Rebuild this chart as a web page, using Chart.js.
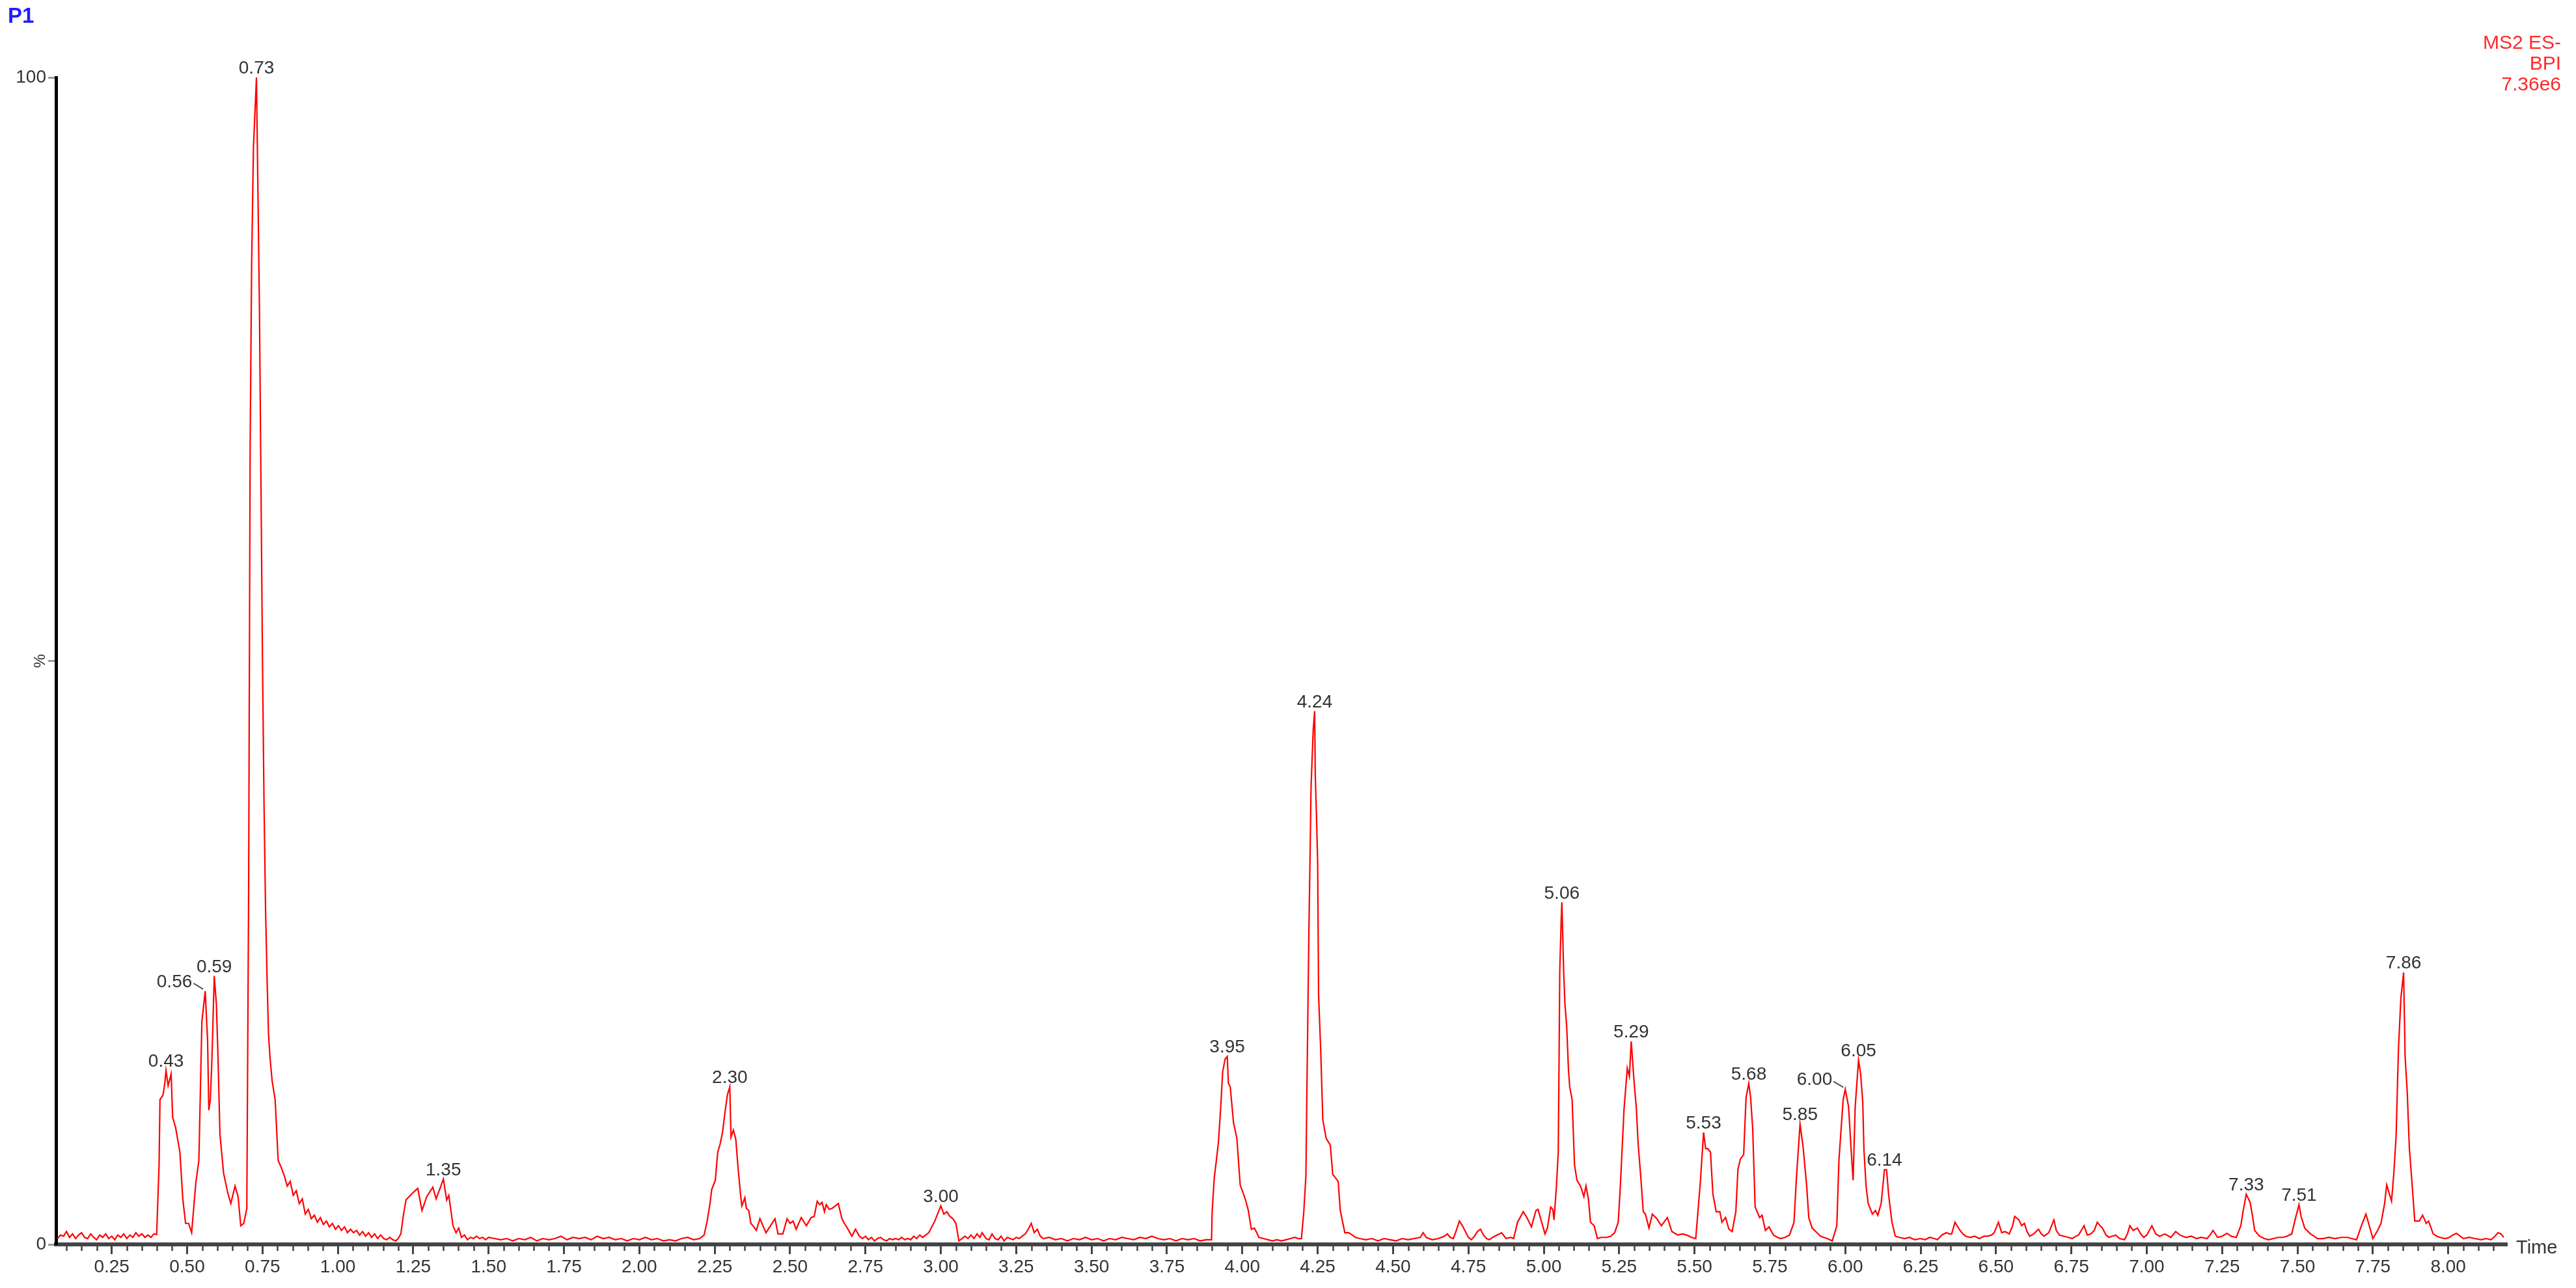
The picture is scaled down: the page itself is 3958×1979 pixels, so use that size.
<!DOCTYPE html>
<html>
<head>
<meta charset="utf-8">
<script src="https://cdn.jsdelivr.net/npm/chart.js@4.4.0/dist/chart.umd.min.js"></script>
<style>
  html, body { margin: 0; padding: 0; background: #fff; }
  #wrap { width: 3958px; height: 1979px; }
</style>
</head>
<body>
<div id="wrap"><canvas id="bpi" width="3958" height="1979"></canvas></div>
<script>
// BPI trace, [time (min), intensity (%)]
const trace0 = [ // 0.07 - 1.20 : front peaks and the 0.73 max
  [0.07,0.5],[0.08,0.8],[0.09,0.7],[0.10,1.1],[0.11,0.6],[0.12,0.9],[0.13,0.5],[0.14,0.8],[0.15,1.0],[0.16,0.6],
  [0.17,0.5],[0.18,0.9],[0.19,0.6],[0.20,0.4],[0.21,0.8],[0.22,0.6],[0.23,0.9],[0.24,0.5],[0.25,0.7],[0.26,0.4],
  [0.27,0.8],[0.28,0.6],[0.29,0.9],[0.30,0.5],[0.31,0.8],[0.32,0.6],[0.33,1.0],[0.34,0.7],[0.35,0.9],[0.36,0.6],
  [0.37,0.8],[0.38,0.6],[0.39,0.9],[0.399,0.85],[0.407,6.8],[0.41,12.4],[0.42,12.8],[0.426,13.8],[0.43,14.9],
  [0.437,13.6],[0.447,14.6],[0.452,10.9],[0.462,10.0],[0.476,7.9],[0.486,3.8],[0.495,1.8],[0.505,1.8],[0.515,1.0],
  [0.529,5.3],[0.539,7.2],[0.544,13.1],[0.549,19.1],[0.56,21.7],[0.568,17.4],[0.572,11.5],[0.577,12.4],[0.582,15.6],
  [0.59,23.0],[0.597,20.6],[0.602,16.5],[0.609,9.4],[0.621,6.1],[0.635,4.4],[0.645,3.5],[0.659,5.0],[0.669,4.1],
  [0.678,1.6],[0.688,1.8],[0.698,3.1],[0.704,30],[0.709,68],[0.714,84],[0.72,94],[0.73,100],[0.735,90],[0.74,80],
  [0.745,65],[0.75,50],[0.755,38],[0.76,29],[0.765,23],[0.77,18],[0.775,16],[0.782,14],[0.792,12.4],[0.802,7.2],
  [0.812,6.6],[0.822,5.9],[0.832,5.0],[0.842,5.4],[0.852,4.2],[0.862,4.6],[0.872,3.5],[0.882,3.9],[0.892,2.6],
  [0.902,3.0],[0.912,2.2],[0.922,2.5],[0.932,1.9],[0.942,2.3],[0.952,1.7],[0.962,2.0],[0.972,1.5],[0.982,1.8],
  [0.992,1.3],[1.002,1.6],[1.012,1.2],[1.022,1.5],[1.032,1.0],[1.042,1.3],[1.052,1.0],[1.062,1.2],[1.072,0.8],
  [1.082,1.1],[1.092,0.7],[1.102,1.0],[1.112,0.6],[1.122,0.9],[1.132,0.5],[1.142,0.8],[1.152,0.5],[1.162,0.4],
  [1.172,0.6],[1.182,0.4],[1.192,0.3],[1.20,0.5]
];
const trace1 = [ // 1.21 - 2.20 : 1.35 cluster and flat baseline
  [1.209,0.9],[1.218,2.6],[1.226,3.8],[1.24,4.2],[1.252,4.5],[1.265,4.8],[1.279,2.9],[1.295,4.1],[1.315,4.9],
  [1.326,3.9],[1.339,4.8],[1.35,5.6],[1.361,3.8],[1.368,4.2],[1.382,1.6],[1.392,1.0],[1.401,1.4],[1.41,0.6],
  [1.42,0.8],[1.43,0.4],[1.44,0.6],[1.45,0.5],[1.46,0.7],[1.47,0.5],[1.48,0.6],[1.49,0.4],[1.50,0.6],[1.52,0.5],
  [1.54,0.4],[1.56,0.5],[1.58,0.3],[1.60,0.5],[1.62,0.4],[1.64,0.6],[1.66,0.3],[1.68,0.5],[1.70,0.4],[1.72,0.5],
  [1.74,0.7],[1.76,0.4],[1.78,0.6],[1.80,0.5],[1.82,0.6],[1.84,0.4],[1.86,0.7],[1.88,0.5],[1.90,0.6],[1.92,0.4],
  [1.94,0.5],[1.96,0.3],[1.98,0.5],[2.00,0.4],[2.02,0.6],[2.04,0.4],[2.06,0.5],[2.08,0.3],[2.10,0.4],[2.12,0.3],
  [2.14,0.5],[2.16,0.6],[2.18,0.4],[2.20,0.5]
];
const trace2 = [ // 2.21 - 3.88 : 2.30 and 3.00
  [2.215,0.8],[2.225,2.0],[2.235,3.6],[2.24,4.7],[2.252,5.5],[2.26,7.9],[2.268,8.6],[2.276,9.6],[2.284,11.3],
  [2.292,12.8],[2.30,13.5],[2.304,9.2],[2.312,9.8],[2.32,9.0],[2.328,6.4],[2.336,4.2],[2.34,3.3],[2.35,4.0],
  [2.355,3.1],[2.363,2.9],[2.37,1.8],[2.38,1.5],[2.388,1.2],[2.40,2.2],[2.41,1.6],[2.42,1.0],[2.435,1.6],[2.45,2.2],
  [2.46,0.9],[2.476,0.9],[2.49,2.2],[2.50,1.8],[2.51,2.0],[2.52,1.3],[2.537,2.3],[2.554,1.6],[2.57,2.3],[2.58,2.4],
  [2.59,3.7],[2.598,3.4],[2.606,3.6],[2.614,2.8],[2.62,3.4],[2.63,3.0],[2.64,3.1],[2.65,3.3],[2.66,3.5],[2.672,2.2],
  [2.68,1.8],[2.69,1.4],[2.705,0.7],[2.717,1.3],[2.73,0.7],[2.74,0.5],[2.75,0.7],[2.76,0.4],[2.77,0.6],[2.78,0.3],
  [2.79,0.5],[2.80,0.6],[2.81,0.4],[2.82,0.3],[2.83,0.5],[2.84,0.4],[2.85,0.5],[2.86,0.4],[2.87,0.6],[2.88,0.4],
  [2.89,0.5],[2.90,0.4],[2.91,0.7],[2.92,0.5],[2.93,0.8],[2.94,0.6],[2.96,1.0],[2.98,2.0],[3.00,3.3],[3.01,2.6],
  [3.02,2.8],[3.03,2.4],[3.04,2.2],[3.05,1.8],[3.06,0.3],[3.07,0.5],[3.08,0.7],[3.09,0.5],[3.10,0.8],[3.11,0.5],
  [3.12,0.9],[3.13,0.6],[3.137,1.0],[3.15,0.5],[3.16,0.4],[3.17,0.9],[3.18,0.5],[3.19,0.4],[3.20,0.7],[3.21,0.3],
  [3.22,0.6],[3.23,0.5],[3.24,0.4],[3.25,0.6],[3.26,0.5],[3.27,0.7],[3.28,0.9],[3.29,1.3],[3.30,1.8],[3.31,1.0],
  [3.32,1.3],[3.33,0.7],[3.34,0.5],[3.36,0.6],[3.38,0.4],[3.40,0.5],[3.42,0.3],[3.44,0.5],[3.46,0.4],[3.48,0.6],
  [3.50,0.4],[3.52,0.5],[3.54,0.3],[3.56,0.5],[3.58,0.4],[3.60,0.6],[3.62,0.5],[3.64,0.4],[3.66,0.6],[3.68,0.5],
  [3.70,0.7],[3.72,0.5],[3.74,0.4],[3.76,0.5],[3.78,0.3],[3.80,0.5],[3.82,0.4],[3.84,0.5],[3.86,0.3],[3.88,0.4]
];
const trace3 = [ // 3.89 - 4.84 : 3.95 and 4.24
  [3.898,0.4],[3.90,2.8],[3.907,5.7],[3.914,7.2],[3.921,8.8],[3.928,11.6],[3.935,14.8],[3.943,15.9],[3.95,16.1],
  [3.954,13.8],[3.96,13.5],[3.971,10.4],[3.982,9.1],[3.993,5.1],[4.00,4.6],[4.007,4.1],[4.013,3.6],[4.02,2.9],
  [4.03,1.3],[4.04,1.4],[4.048,1.0],[4.055,0.6],[4.07,0.5],[4.085,0.4],[4.10,0.3],[4.115,0.4],[4.13,0.3],[4.145,0.4],
  [4.16,0.5],[4.175,0.6],[4.185,0.5],[4.196,0.5],[4.204,2.8],[4.211,5.9],[4.214,12.6],[4.221,27],[4.225,33.6],
  [4.228,39.1],[4.235,44],[4.24,45.7],[4.242,40.2],[4.246,36.8],[4.25,32.7],[4.253,21.4],[4.26,16.7],[4.267,10.7],
  [4.278,9.1],[4.292,8.5],[4.30,6.0],[4.318,5.4],[4.325,2.9],[4.34,1.0],[4.353,1.0],[4.365,0.8],[4.375,0.6],
  [4.39,0.5],[4.41,0.4],[4.43,0.5],[4.45,0.3],[4.47,0.5],[4.49,0.4],[4.51,0.3],[4.53,0.5],[4.55,0.4],[4.57,0.5],
  [4.59,0.6],[4.60,1.0],[4.61,0.6],[4.63,0.4],[4.65,0.5],[4.67,0.7],[4.68,0.9],[4.69,0.6],[4.70,0.5],[4.71,1.2],
  [4.72,2.0],[4.73,1.6],[4.74,1.1],[4.75,0.6],[4.76,0.4],[4.77,0.7],[4.78,1.1],[4.79,1.3],[4.80,0.8],[4.81,0.5],
  [4.82,0.4],[4.83,0.6]
];
const trace4 = [ // 4.845 - 5.92 : 5.06 to 5.85
  [4.845,0.8],[4.86,1.0],[4.875,0.5],[4.89,0.6],[4.90,0.5],[4.913,1.9],[4.932,2.8],[4.944,2.3],[4.959,1.5],
  [4.974,2.9],[4.981,3.0],[4.993,1.9],[5.004,0.9],[5.012,1.4],[5.023,3.2],[5.03,3.0],[5.034,2.1],[5.042,5.0],
  [5.048,7.9],[5.051,16.7],[5.053,23.4],[5.058,28.0],[5.06,29.3],[5.066,23.4],[5.07,20.7],[5.076,18.7],[5.082,14.9],
  [5.086,13.5],[5.094,12.4],[5.102,6.8],[5.11,5.5],[5.122,5.0],[5.133,4.1],[5.14,5.0],[5.148,3.9],[5.155,1.9],
  [5.167,1.6],[5.178,0.5],[5.19,0.6],[5.209,0.6],[5.222,0.7],[5.235,1.0],[5.247,1.9],[5.254,5.0],[5.266,11.5],
  [5.277,15.1],[5.284,14.4],[5.29,17.4],[5.30,13.8],[5.307,11.7],[5.313,8.6],[5.322,5.7],[5.33,2.8],[5.337,2.6],
  [5.349,1.4],[5.36,2.6],[5.375,2.2],[5.39,1.6],[5.41,2.3],[5.425,1.1],[5.444,0.8],[5.46,0.9],[5.474,0.8],
  [5.49,0.6],[5.504,0.5],[5.512,3.0],[5.519,5.2],[5.53,9.6],[5.537,8.2],[5.544,8.2],[5.553,7.9],[5.561,4.3],
  [5.572,2.8],[5.584,2.8],[5.591,1.9],[5.603,2.3],[5.614,1.3],[5.625,1.1],[5.637,2.8],[5.644,6.4],[5.652,7.3],
  [5.663,7.7],[5.671,12.6],[5.68,13.8],[5.686,12.6],[5.693,9.9],[5.701,3.2],[5.716,2.3],[5.724,2.5],[5.735,1.2],
  [5.747,1.5],[5.762,0.8],[5.775,0.6],[5.785,0.5],[5.80,0.6],[5.815,0.8],[5.83,1.9],[5.838,5.7],[5.85,10.3],
  [5.86,8.4],[5.872,5.0],[5.879,2.3],[5.89,1.4],[5.906,1.0],[5.918,0.7]
];
const trace5 = [ // 5.93 - 7.21 : 6.00 / 6.05 / 6.14 and the noisy stretch
  [5.94,0.5],[5.957,0.3],[5.972,1.6],[5.979,7.2],[5.993,12.4],[6.00,13.3],[6.011,11.8],[6.019,8.3],[6.026,5.5],
  [6.033,11.8],[6.044,15.8],[6.051,14.6],[6.058,12.2],[6.062,8.1],[6.069,5.0],[6.076,3.5],[6.09,2.6],[6.10,2.9],
  [6.108,2.5],[6.119,3.5],[6.13,6.4],[6.137,6.4],[6.144,4.2],[6.155,1.9],[6.166,0.7],[6.18,0.6],[6.197,0.5],
  [6.213,0.6],[6.23,0.4],[6.249,0.5],[6.265,0.4],[6.28,0.6],[6.295,0.5],[6.306,0.4],[6.32,0.8],[6.335,1.0],
  [6.345,0.9],[6.353,0.9],[6.364,1.9],[6.378,1.3],[6.39,0.9],[6.40,0.7],[6.415,0.6],[6.429,0.7],[6.445,0.5],
  [6.46,0.7],[6.472,0.7],[6.485,0.8],[6.494,1.0],[6.508,1.9],[6.519,1.0],[6.53,1.1],[6.544,0.9],[6.555,1.6],
  [6.562,2.4],[6.576,2.1],[6.585,1.6],[6.594,1.8],[6.603,1.1],[6.612,0.7],[6.625,0.9],[6.641,1.3],[6.65,0.9],
  [6.659,0.7],[6.675,1.0],[6.692,2.1],[6.70,1.2],[6.71,0.8],[6.725,0.7],[6.74,0.6],[6.753,0.5],[6.765,0.7],
  [6.774,0.8],[6.792,1.6],[6.803,0.8],[6.815,0.9],[6.826,1.2],[6.836,1.9],[6.845,1.6],[6.853,1.4],[6.865,0.8],
  [6.875,0.6],[6.885,0.7],[6.897,0.8],[6.91,0.5],[6.926,0.4],[6.936,0.9],[6.944,1.6],[6.955,1.2],[6.969,1.4],
  [6.98,0.9],[6.99,0.6],[7.00,0.8],[7.017,1.6],[7.03,0.9],[7.043,0.7],[7.06,0.9],[7.08,0.6],[7.096,1.1],[7.11,0.8],
  [7.13,0.6],[7.148,0.7],[7.165,0.5],[7.18,0.6],[7.20,0.5],[7.21,0.8]
];
const trace6 = [ // 7.22 - 8.19 : 7.33, 7.51, 7.86
  [7.22,1.2],[7.235,0.6],[7.25,0.7],[7.266,0.95],[7.28,0.7],[7.297,0.6],[7.312,1.6],[7.32,2.9],[7.33,4.3],
  [7.343,3.6],[7.351,2.4],[7.358,1.2],[7.374,0.7],[7.39,0.5],[7.404,0.4],[7.42,0.5],[7.435,0.6],[7.45,0.6],
  [7.465,0.7],[7.481,0.9],[7.493,2.2],[7.505,3.4],[7.512,2.4],[7.524,1.4],[7.543,0.9],[7.555,0.7],[7.566,0.5],
  [7.585,0.5],[7.604,0.6],[7.625,0.5],[7.645,0.6],[7.666,0.6],[7.68,0.5],[7.696,0.4],[7.712,1.6],[7.727,2.6],
  [7.736,1.8],[7.75,0.5],[7.766,1.2],[7.777,1.8],[7.789,3.5],[7.796,5.1],[7.812,3.7],[7.819,5.9],[7.827,9.2],
  [7.835,16.8],[7.843,21.1],[7.852,23.3],[7.857,16.1],[7.864,13.1],[7.871,8.3],[7.878,5.9],[7.889,2.0],[7.904,2.0],
  [7.915,2.5],[7.927,1.8],[7.935,2.0],[7.95,0.9],[7.962,0.7],[7.973,0.6],[7.99,0.5],[8.004,0.6],[8.015,0.8],
  [8.027,0.95],[8.04,0.7],[8.05,0.5],[8.07,0.6],[8.088,0.5],[8.11,0.4],[8.125,0.5],[8.142,0.4],[8.155,0.7],
  [8.165,1.0],[8.175,0.9],[8.184,0.6]
];
const trace = [].concat(trace0, trace1, trace2, trace3, trace4, trace5, trace6);

// annotated retention times
const peakLabels = [0.43, 0.56, 0.59, 0.73, 1.35, 2.30, 3.00, 3.95, 4.24, 5.06, 5.29, 5.53, 5.68, 5.85, 6.00, 6.05, 6.14, 7.33, 7.51, 7.86];
const leaderLabels = [0.56, 6.00]; // these sit to the left with a small leader line

// axis ticks
const xTicks = [0.25,0.50,0.75,1.00,1.25,1.50,1.75,2.00,2.25,2.50,2.75,3.00,3.25,3.50,3.75,4.00,
                4.25,4.50,4.75,5.00,5.25,5.50,5.75,6.00,6.25,6.50,6.75,7.00,7.25,7.50,7.75,8.00];
const yTicks = [0, 50, 100];
const yTickLabels = ['0', '', '100']; // the middle one is the rotated %

const headerLines = ['MS2 ES-', 'BPI', '7.36e6'];

const FONT = '"Liberation Sans", Arial, sans-serif';
const TEXT = '#333';

const decorations = {
  id: 'decorations',
  afterDraw(chart) {
    const {ctx, chartArea} = chart;
    const xs = chart.scales.x, ys = chart.scales.y;
    ctx.save();

    // minor ticks every 0.05
    ctx.strokeStyle = '#444';
    ctx.lineWidth = 2.5;
    for (let i = 2; i <= 163; i++) {
      if (i % 5 === 0) continue;
      const px = Math.round(xs.getPixelForValue(i * 0.05)) + 0.5;
      if (px < chartArea.left + 2 || px > chartArea.right - 2) continue;
      ctx.beginPath();
      ctx.moveTo(px, chartArea.bottom);
      ctx.lineTo(px, chartArea.bottom + 10);
      ctx.stroke();
    }

    // peak labels
    ctx.font = '28px ' + FONT;
    ctx.fillStyle = TEXT;
    peakLabels.forEach(t => {
      let best = null;
      trace.forEach(p => {
        if (Math.abs(p[0] - t) <= 0.012 && (!best || p[1] > best[1])) best = p;
      });
      if (!best) return;
      const px = xs.getPixelForValue(best[0]);
      const py = ys.getPixelForValue(best[1]);
      const txt = t.toFixed(2);
      if (leaderLabels.includes(t)) {
        ctx.textAlign = 'right';
        ctx.textBaseline = 'middle';
        ctx.fillText(txt, px - 20, py - 14);
        ctx.strokeStyle = '#555';
        ctx.lineWidth = 2;
        ctx.beginPath();
        ctx.moveTo(px - 18, py - 12);
        ctx.lineTo(px - 3, py - 3);
        ctx.stroke();
      } else {
        ctx.textAlign = 'center';
        ctx.textBaseline = 'alphabetic';
        ctx.fillText(txt, px, py - 6);
      }
    });

    // rotated % on the y axis
    ctx.save();
    ctx.translate(62, ys.getPixelForValue(50));
    ctx.rotate(-Math.PI / 2);
    ctx.font = '24px ' + FONT;
    ctx.textAlign = 'center';
    ctx.textBaseline = 'middle';
    ctx.fillText('%', 0, 0);
    ctx.restore();

    // axis name at the right end
    ctx.font = '29px ' + FONT;
    ctx.textAlign = 'left';
    ctx.textBaseline = 'middle';
    ctx.fillText('Time', chartArea.right + 14, chartArea.bottom + 6);

    // panel name
    ctx.font = 'bold 33px ' + FONT;
    ctx.fillStyle = '#1f1fff';
    ctx.textBaseline = 'alphabetic';
    ctx.fillText('P1', 12, 35);

    // function description
    ctx.font = '30px ' + FONT;
    ctx.fillStyle = '#ff2a2a';
    ctx.textAlign = 'right';
    headerLines.forEach((s, i) => ctx.fillText(s, 3935, 75 + i * 32));

    ctx.restore();
  }
};

const canvas = document.getElementById('bpi');
new Chart(canvas, {
  type: 'line',
  data: {
    datasets: [{
      data: trace.map(p => ({x: p[0], y: p[1]})),
      borderColor: '#ff0000',
      borderWidth: 2.2,
      pointRadius: 0,
      tension: 0,
      fill: false,
      clip: 6
    }]
  },
  options: {
    responsive: false,
    animation: false,
    devicePixelRatio: 1,
    layout: { padding: { top: 119, right: 106, left: 0, bottom: 0 } },
    plugins: { legend: { display: false }, tooltip: { enabled: false }, title: { display: false } },
    scales: {
      x: {
        type: 'linear',
        min: 0.065,
        max: 8.195,
        afterBuildTicks: s => { s.ticks = xTicks.map(v => ({value: v})); },
        afterFit: s => { s.height = 67; },
        ticks: {
          callback: v => v.toFixed(2),
          autoSkip: false,
          maxRotation: 0,
          padding: 3,
          color: TEXT,
          font: { family: FONT, size: 28 }
        },
        grid: { drawOnChartArea: false, drawTicks: true, tickLength: 15, tickColor: '#444', tickWidth: 3 },
        border: { color: '#444', width: 6 }
      },
      y: {
        min: 0,
        max: 100,
        afterBuildTicks: s => { s.ticks = yTicks.map(v => ({value: v})); },
        afterFit: s => { s.width = 86; },
        ticks: {
          callback: (v, i) => yTickLabels[i],
          padding: 3,
          color: TEXT,
          font: { family: FONT, size: 28 }
        },
        grid: { drawOnChartArea: false, drawTicks: true, tickLength: 12, tickColor: '#999', tickWidth: 3 },
        border: { color: '#000', width: 5 }
      }
    }
  },
  plugins: [decorations]
});
</script>
</body>
</html>
